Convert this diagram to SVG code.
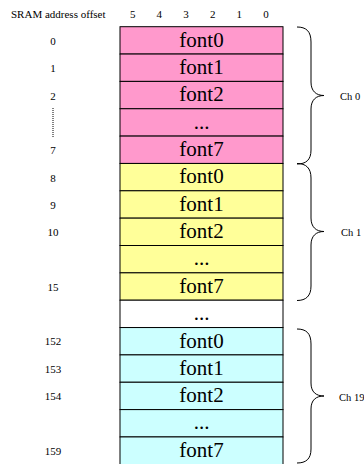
<svg xmlns="http://www.w3.org/2000/svg" width="364" height="464" viewBox="0 0 364 464">
<style>
text{font-family:"Liberation Serif","Times New Roman",serif;fill:#000}
.sm{font-size:11px;text-anchor:middle}
.hd{font-size:11px}
.ch{font-size:10.5px}
.big{font-size:21px;text-anchor:middle}
.cell{stroke:#000;stroke-width:1}
.pink{fill:#FF99CC}
.yel{fill:#FFFF99}
.cyan{fill:#CCFFFF}
.wht{fill:#FFFFFF}
.brace{fill:none;stroke:#000;stroke-width:1}
</style>
<rect width="364" height="464" fill="#fff"/>
<g id="header">
<text class="hd" x="11" y="18">SRAM address offset</text>
<text class="sm" x="132.7" y="18">5</text>
<text class="sm" x="159.3" y="18">4</text>
<text class="sm" x="186" y="18">3</text>
<text class="sm" x="212.7" y="18">2</text>
<text class="sm" x="239.3" y="18">1</text>
<text class="sm" x="266" y="18">0</text>
</g>
<g id="offsets">
<text class="sm" x="53" y="45">0</text>
<text class="sm" x="53" y="72">1</text>
<text class="sm" x="53" y="99.5">2</text>
<line x1="53" y1="108" x2="53" y2="137" stroke="#000" stroke-width="1" stroke-dasharray="1,1"/>
<text class="sm" x="53" y="154">7</text>
<text class="sm" x="53" y="181.5">8</text>
<text class="sm" x="53" y="209">9</text>
<text class="sm" x="53" y="236">10</text>
<text class="sm" x="53" y="291">15</text>
<text class="sm" x="53" y="345">152</text>
<text class="sm" x="53" y="372.5">153</text>
<text class="sm" x="53" y="400">154</text>
<text class="sm" x="53" y="455">159</text>
</g>
<g id="ch0-rows">
<rect class="cell pink" x="120" y="26.7" width="163" height="27.35"/>
<text class="big" x="201.5" y="46.7">font0</text>
<rect class="cell pink" x="120" y="54.05" width="163" height="27.35"/>
<text class="big" x="201.5" y="74">font1</text>
<rect class="cell pink" x="120" y="81.4" width="163" height="27.35"/>
<text class="big" x="201.5" y="101.4">font2</text>
<rect class="cell pink" x="120" y="108.75" width="163" height="27.35"/>
<text class="big" x="201.5" y="128.5">...</text>
<rect class="cell pink" x="120" y="136.1" width="163" height="27.35"/>
<text class="big" x="201.5" y="156.1">font7</text>
</g>
<g id="ch1-rows">
<rect class="cell yel" x="120" y="163.45" width="163" height="27.35"/>
<text class="big" x="201.5" y="183.45">font0</text>
<rect class="cell yel" x="120" y="190.8" width="163" height="27.35"/>
<text class="big" x="201.5" y="210.8">font1</text>
<rect class="cell yel" x="120" y="218.15" width="163" height="27.35"/>
<text class="big" x="201.5" y="238.15">font2</text>
<rect class="cell yel" x="120" y="245.5" width="163" height="27.35"/>
<text class="big" x="201.5" y="265.3">...</text>
<rect class="cell yel" x="120" y="272.85" width="163" height="27.35"/>
<text class="big" x="201.5" y="292.85">font7</text>
</g>
<g id="gap-row">
<rect class="cell wht" x="120" y="300.2" width="163" height="27.35"/>
<text class="big" x="201.5" y="320">...</text>
</g>
<g id="ch19-rows">
<rect class="cell cyan" x="120" y="327.55" width="163" height="27.35"/>
<text class="big" x="201.5" y="347.55">font0</text>
<rect class="cell cyan" x="120" y="354.9" width="163" height="27.35"/>
<text class="big" x="201.5" y="374.9">font1</text>
<rect class="cell cyan" x="120" y="382.25" width="163" height="27.35"/>
<text class="big" x="201.5" y="402.25">font2</text>
<rect class="cell cyan" x="120" y="409.6" width="163" height="27.35"/>
<text class="big" x="201.5" y="429.4">...</text>
<rect class="cell cyan" x="120" y="436.95" width="163" height="28"/>
<text class="big" x="201.5" y="456.95">font7</text>
</g>
<g id="connectors">
<path class="brace" d="M297,27 C306,27 311,31 311,42 L311,82 C311,91 316,95.5 324,95.5 C316,95.5 311,100 311,109 L311,150 C311,160 306,164 297,164"/>
<path class="brace" d="M297,163.5 C306,163.5 311,168 311,178 L311,218 C311,227 316,231.5 324,231.5 C316,231.5 311,236 311,245 L311,286 C311,296 306,300.5 297,300.5"/>
<path class="brace" d="M297,329 C306,329 311,333 311,344 L311,383 C311,392 316,396 324,396 C316,396 311,400 311,409 L311,449 C311,459 306,463 297,463"/>
</g>
<g id="labels">
<text class="ch" x="340" y="100">Ch 0</text>
<text class="ch" x="341" y="236">Ch 1</text>
<text class="ch" x="339" y="400.5">Ch 19</text>
</g>
</svg>
